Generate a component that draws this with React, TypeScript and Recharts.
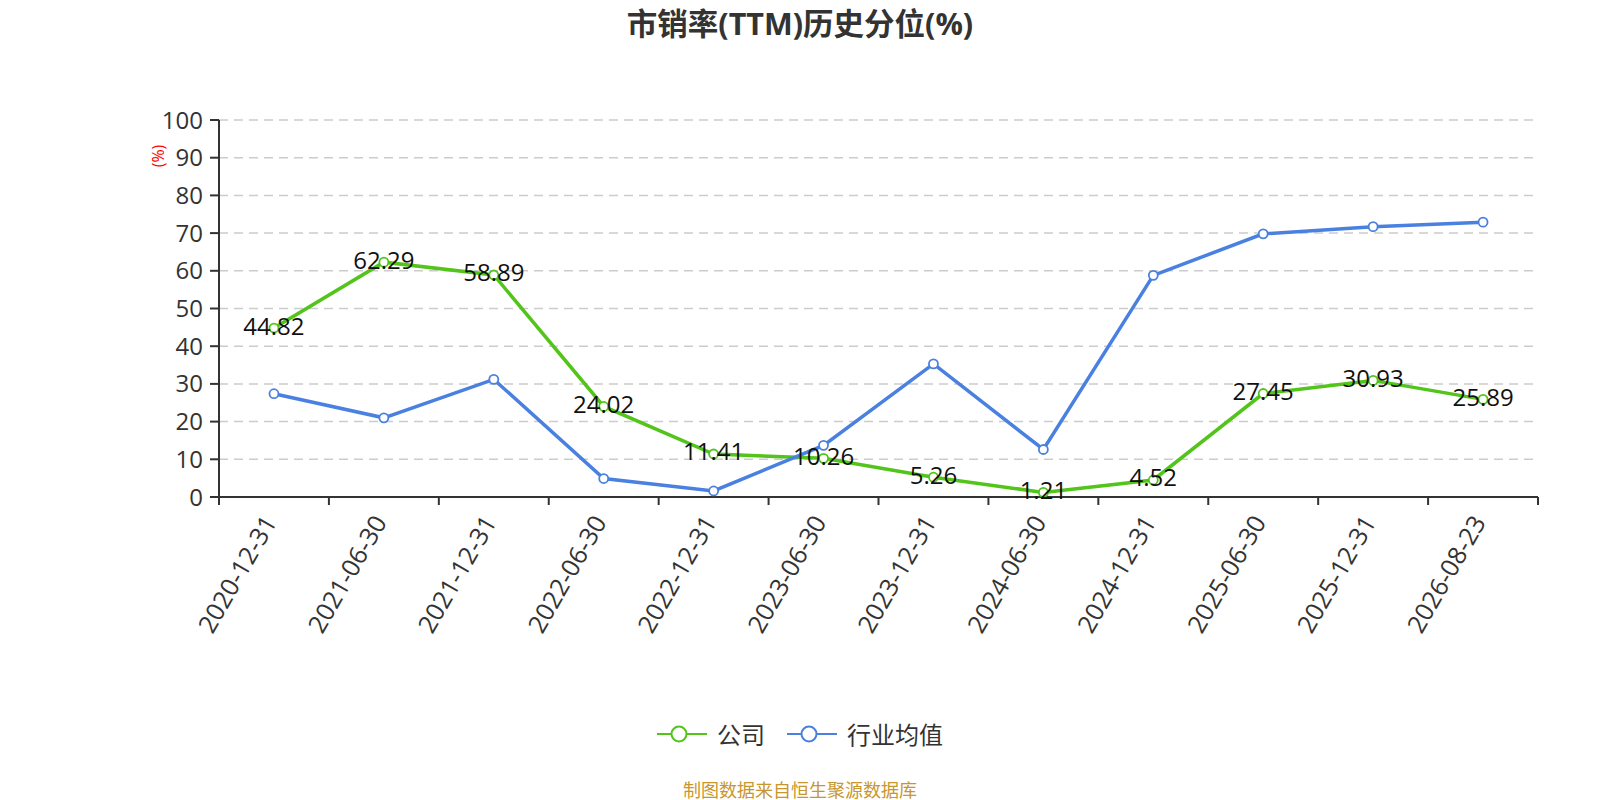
import React from 'react';
import { LineChart, Line, XAxis, YAxis, CartesianGrid, LabelList } from 'recharts';

// 报告期
const dates = [
  '2020-12-31', '2021-06-30', '2021-12-31', '2022-06-30', '2022-12-31', '2023-06-30',
  '2023-12-31', '2024-06-30', '2024-12-31', '2025-06-30', '2025-12-31', '2026-08-23',
];
// 公司 市销率(TTM)历史分位
const companyValues = [44.82, 62.29, 58.89, 24.02, 11.41, 10.26, 5.26, 1.21, 4.52, 27.45, 30.93, 25.89];
// 行业均值 (no labels)
const industryValues = [27.4, 21.0, 31.2, 4.9, 1.6, 13.7, 35.3, 12.6, 58.8, 69.8, 71.7, 72.9];
const yTicks = [0, 10, 20, 30, 40, 50, 60, 70, 80, 90, 100];

const GREEN = '#52c41a';
const BLUE = '#4a80e0';
const FONT = '"Open Sans", "Noto Sans CJK SC", sans-serif';

const W = 1600;
const H = 800;
const PLOT_LEFT = 219;
const PLOT_RIGHT = 1538;
const PLOT_TOP = 120;
const PLOT_BOTTOM = 497;
const BAND = (PLOT_RIGHT - PLOT_LEFT) / dates.length;

const data = dates.map((d, i) => ({ date: d, company: companyValues[i], industry: industryValues[i] }));

// x tick: label at band centre, tick marks on band boundaries
const DateTick = (props: any) => {
  const { x, payload, index } = props;
  const y0 = PLOT_BOTTOM;
  const lx = x - 5;
  const ly = y0 + 20;
  return (
    <g>
      <line x1={x - BAND / 2} x2={x - BAND / 2} y1={y0} y2={y0 + 8} stroke="#333" strokeWidth={2} />
      {index === dates.length - 1 && (
        <line x1={x + BAND / 2} x2={x + BAND / 2} y1={y0} y2={y0 + 8} stroke="#333" strokeWidth={2} />
      )}
      <text
        x={lx}
        y={ly}
        transform={`rotate(-60, ${lx}, ${ly})`}
        textAnchor="end"
        dominantBaseline="central"
        fontSize={25}
        fill="#333"
        fontFamily={FONT}
      >
        {payload.value}
      </text>
    </g>
  );
};

const ValueLabel = (props: any) => {
  const { x, y, value } = props;
  return (
    <text x={x} y={y - 3} textAnchor="middle" dominantBaseline="central" fontSize={24} fill="#111" fontFamily={FONT}>
      {Number(value).toFixed(2)}
    </text>
  );
};

const LegendItem = ({ color, label }: { color: string; label: string }) => (
  <div style={{ display: 'flex', alignItems: 'center', gap: 10 }}>
    <svg width={50} height={20}>
      <line x1={0} x2={50} y1={10} y2={10} stroke={color} strokeWidth={2} />
      <circle cx={22} cy={10} r={7.5} fill="#fff" stroke={color} strokeWidth={2} />
    </svg>
    <span style={{ fontSize: 24, color: '#333' }}>{label}</span>
  </div>
);

export default function App() {
  return (
    <div style={{ position: 'absolute', left: 0, top: 0, width: W, height: H, background: '#fff', fontFamily: FONT }}>
      <div style={{ position: 'absolute', top: 3, left: 0, width: W, textAlign: 'center', fontSize: 30.5, fontWeight: 'bold', color: '#333', lineHeight: '40px' }}>
        市销率(TTM)历史分位(%)
      </div>
      <div style={{ position: 'absolute', left: 157.5, top: 155.5, transform: 'translate(-50%, -50%) rotate(-90deg)', color: 'red', fontSize: 16, whiteSpace: 'nowrap' }}>
        (%)
      </div>
      <LineChart width={W} height={H} data={data} margin={{ top: PLOT_TOP, right: W - PLOT_RIGHT, left: 0, bottom: 0 }}>
        <CartesianGrid horizontal vertical={false} stroke="#ccc" strokeDasharray="9 6" strokeWidth={1.5} />
        <XAxis
          dataKey="date"
          type="category"
          scale="band"
          height={H - PLOT_BOTTOM}
          interval={0}
          axisLine={{ stroke: '#333', strokeWidth: 2 }}
          tickLine={false}
          tick={<DateTick />}
        />
        <YAxis
          width={PLOT_LEFT}
          domain={[0, 100]}
          ticks={yTicks}
          interval={0}
          tickSize={9}
          tickMargin={7}
          axisLine={{ stroke: '#333', strokeWidth: 2 }}
          tickLine={{ stroke: '#333', strokeWidth: 2 }}
          tick={{ fontSize: 24, fill: '#333', fontFamily: FONT }}
        />
        <Line
          dataKey="company"
          stroke={GREEN}
          strokeWidth={3.5}
          dot={{ r: 4.5, fill: '#fff', stroke: GREEN, strokeWidth: 1.8 }}
          isAnimationActive={false}
        />
        <Line
          dataKey="industry"
          stroke={BLUE}
          strokeWidth={3.5}
          dot={{ r: 4.5, fill: '#fff', stroke: BLUE, strokeWidth: 1.8 }}
          isAnimationActive={false}
        />
        {/* labels of the company series drawn last so they sit on top */}
        <Line dataKey="company" stroke="none" dot={false} activeDot={false} legendType="none" isAnimationActive={false}>
          <LabelList dataKey="company" content={<ValueLabel />} />
        </Line>
      </LineChart>
      <div style={{ position: 'absolute', top: 716, left: 0, width: W, display: 'flex', justifyContent: 'center', gap: 22 }}>
        <LegendItem color={GREEN} label="公司" />
        <LegendItem color={BLUE} label="行业均值" />
      </div>
      <div style={{ position: 'absolute', top: 778, left: 0, width: W, textAlign: 'center', fontSize: 18, color: '#c8962e', lineHeight: '24px' }}>
        制图数据来自恒生聚源数据库
      </div>
    </div>
  );
}
